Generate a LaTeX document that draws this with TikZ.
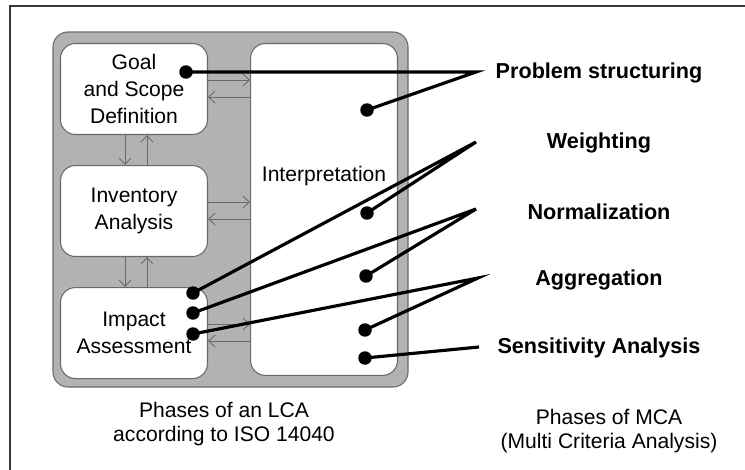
\documentclass[tikz,border=0pt]{standalone}
\usepackage{fontspec}
\setmainfont{Liberation Sans}
\usetikzlibrary{arrows.meta, positioning, calc}
\definecolor{framegray}{RGB}{55,55,55}
\definecolor{panelgray}{RGB}{178,178,178}
\definecolor{edgegray}{RGB}{105,105,105}
\tikzset{
  phase/.style={draw=edgegray, fill=white, rounded corners=8.5pt, line width=0.6pt,
    minimum width=2.94cm, minimum height=1.82cm, align=center, inner sep=2pt},
  flow/.style={draw=edgegray, line width=0.5pt, -{Straight Barb[length=1.3mm, width=2.4mm]}},
  link/.style={line width=1.8pt, line join=miter},
  dot/.style={circle, fill=black, inner sep=0pt, minimum size=0.27cm},
  mca/.style={font=\fontsize{12.3}{14.5}\selectfont\bfseries},
  caption/.style={align=center, font=\fontsize{12}{13.5}\selectfont}
}

\begin{document}
\begin{tikzpicture}[x=0.02cm, y=-0.02cm, font=\fontsize{12}{15.2}\selectfont]
  \useasboundingbox (0,0) rectangle (745,470);
  \draw[framegray, line width=1pt] (10,470) -- (10,6) -- (745,6);
  % LCA phases
  \draw[edgegray, fill=panelgray, line width=0.6pt, rounded corners=8.5pt] (53,32) rectangle (408,387);
  \node[phase] (goal) at (134,89) {Goal\\and Scope\\Definition};
  \node[phase, below=0.6cm of goal] (inv) {Inventory\\Analysis};
  \node[phase, below=0.6cm of inv] (imp) {Impact\\Assessment};
  \node[phase, minimum height=6.64cm, anchor=north west] (interp) at ($(goal.north east)+(42,0)$) {};
  \node (interptext) at ($(interp.center)+(0,-33)$) {Interpretation};
  \foreach \a/\b in {goal/inv, inv/imp} {
    \path ($(\a.south)+(-9,0)$) coordinate (o);
    \draw[flow] (o) -- (o |- \b.north);
    \path ($(\a.south)+(13,0)$) coordinate (o);
    \draw[flow] (o |- \b.north) -- (o);
  }
  \foreach \p in {goal, inv, imp} {
    \path ($(\p.east)+(0,-9)$) coordinate (o);
    \draw[flow] (o) -- (o -| interp.west);
    \path ($(\p.east)+(0,8)$) coordinate (o);
    \draw[flow] (o -| interp.west) -- (o);
  }
  \node[caption] (lcacap) at (224,424) {Phases of an LCA\\according to ISO 14040};
  % MCA phases
  \node[mca] (ps) at (599,73) {Problem structuring};
  \node[mca] (wt) at (599,143) {Weighting};
  \node[mca] (nm) at (599,212) {Normalization};
  \node[mca] (ag) at (599,280) {Aggregation};
  \node[mca] (sa) at (599,348) {Sensitivity Analysis};
  \node[caption] (mcacap) at (609,431) {Phases of MCA\\(Multi Criteria Analysis)};
  \node[dot] (goaldot) at (186,72) {};
  \node[dot] (impdot1) at (193,293) {};
  \node[dot] (impdot2) at (193,313) {};
  \node[dot] (impdot3) at (193,334) {};
  \node[dot] (intdot1) at (367,110) {};
  \node[dot] (intdot2) at (367,213) {};
  \node[dot] (intdot3) at (366,276) {};
  \node[dot] (intdot4) at (365,330) {};
  \node[dot] (intdot5) at (365,358) {};
  \coordinate (psv) at (476,72);
  \coordinate (wtv) at (476,142);
  \coordinate (nmv) at (476,209);
  \coordinate (agv) at (478,278);
  \coordinate (sav) at (479,347);
  \draw[link] (goaldot.center) -- (psv) -- (intdot1.center);
  \draw[link] (impdot1.center) -- (wtv) -- (intdot2.center);
  \draw[link] (impdot2.center) -- (nmv) -- (intdot3.center);
  \draw[link] (impdot3.center) -- (agv) -- (intdot4.center);
  \draw[link] (intdot5.center) -- (sav);
\end{tikzpicture}
\end{document}
